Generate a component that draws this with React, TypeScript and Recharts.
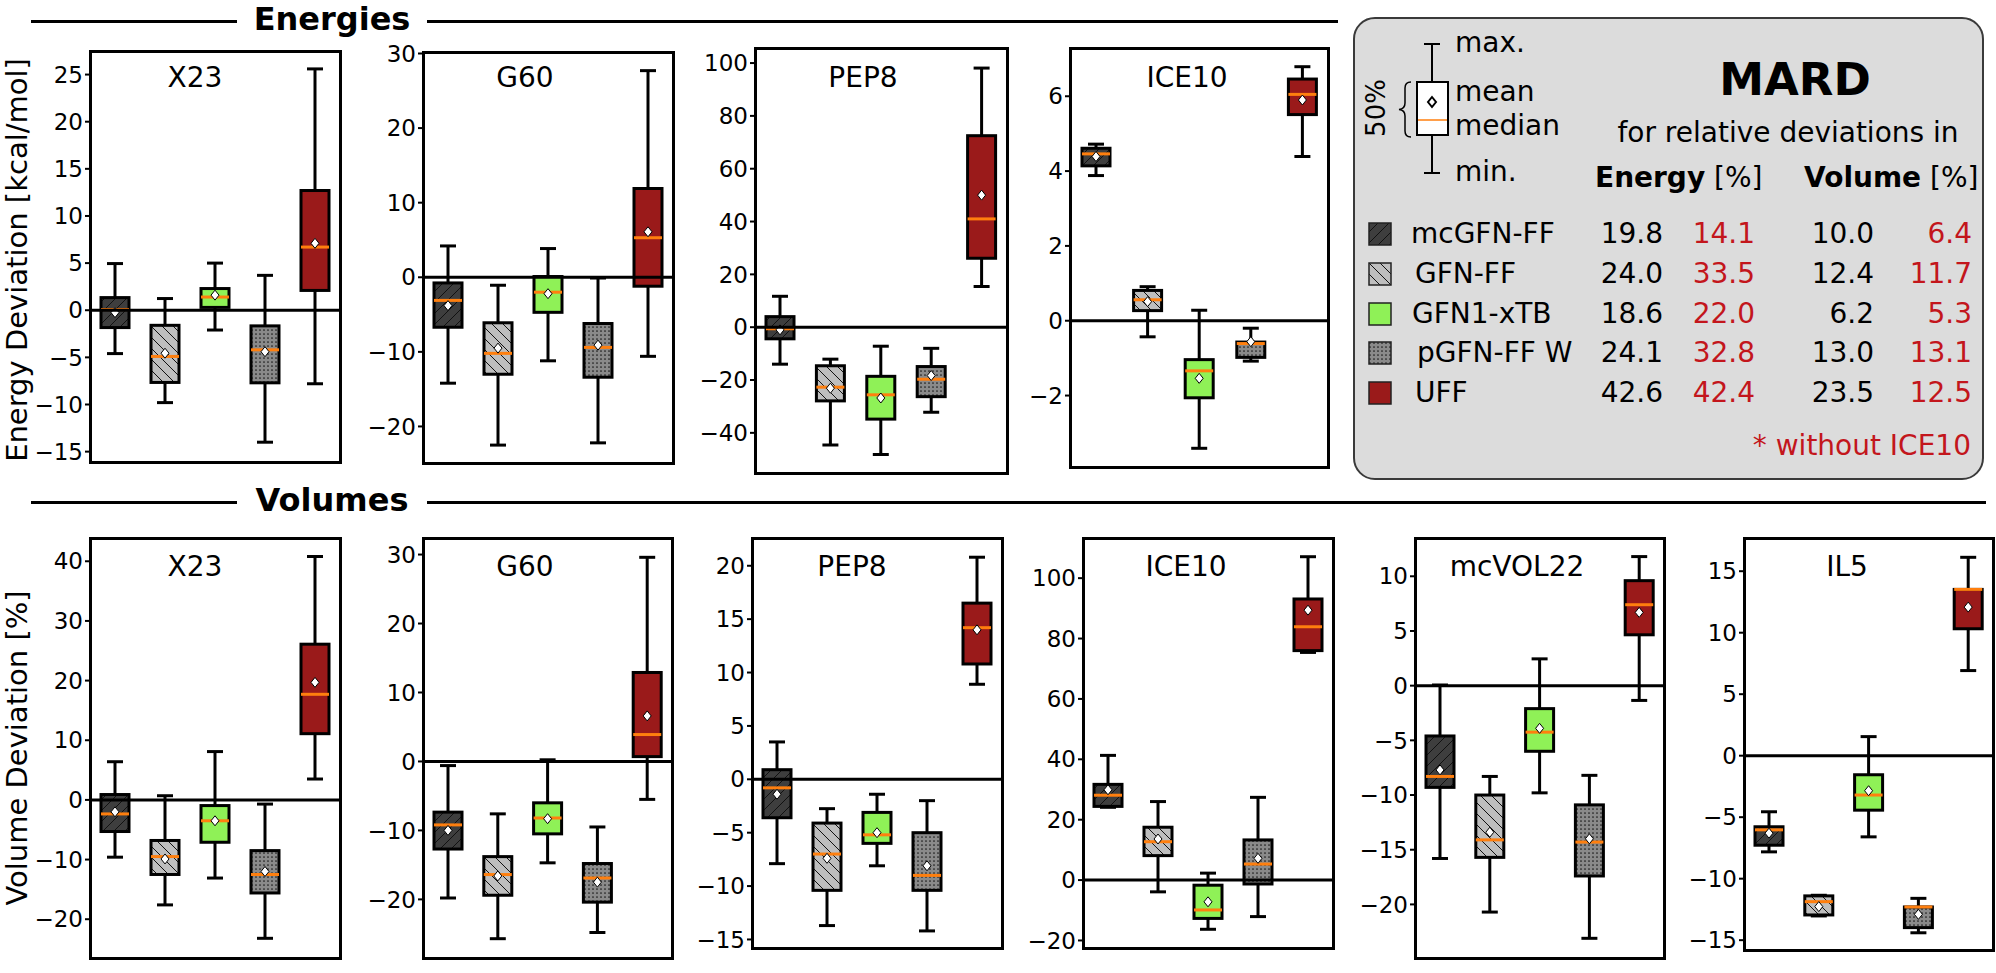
import React from "react";
import { ComposedChart, Bar, XAxis, YAxis, ReferenceLine } from "recharts";

const FONT = "'DejaVu Sans', sans-serif";

const METHODS = ["mcGFN-FF", "GFN-FF", "GFN1-xTB", "pGFN-FF W", "UFF"];
const FILLS = ["#3e3e3e", "#bebebe", "#8ff157", "#8a8a8a", "#9a1a1a"];
const PATTERNS = ["hatchFwd", "hatchBack", "", "dots", ""];

// one row per method: [min, q1, median, mean, q3, max]
const E_X23 = [
  [-4.6, -1.84, 0.07, -0.25, 1.34, 4.95],
  [-9.8, -7.66, -4.9, -4.56, -1.6, 1.24],
  [-2.1, 0.3, 1.4, 1.6, 2.3, 5.0],
  [-14.0, -7.7, -4.2, -4.4, -1.66, 3.7],
  [-7.8, 2.1, 6.7, 7.1, 12.7, 25.6],
];
const E_G60 = [
  [-14.2, -6.7, -3.1, -3.8, -0.76, 4.2],
  [-22.5, -13.0, -10.2, -9.5, -6.1, -1.07],
  [-11.2, -4.7, -2.0, -2.2, 0.1, 3.85],
  [-22.2, -13.4, -9.4, -9.1, -6.2, -0.1],
  [-10.6, -1.2, 5.3, 6.1, 11.9, 27.7],
];
const E_PEP8 = [
  [-14.0, -4.4, -0.6, -1.0, 4.0, 11.7],
  [-44.6, -27.9, -22.7, -23.1, -14.6, -12.1],
  [-48.2, -34.8, -25.6, -26.8, -18.6, -7.2],
  [-32.2, -26.3, -19.7, -18.3, -14.9, -8.0],
  [15.4, 26.1, 41.0, 50.0, 72.5, 98.1],
];
const E_ICE10 = [
  [3.88, 4.14, 4.46, 4.39, 4.61, 4.72],
  [-0.43, 0.27, 0.56, 0.51, 0.81, 0.91],
  [-3.41, -2.06, -1.34, -1.54, -1.04, 0.28],
  [-1.08, -0.98, -0.61, -0.56, -0.57, -0.2],
  [4.39, 5.51, 6.05, 5.9, 6.46, 6.79],
];
const V_X23 = [
  [-9.6, -5.3, -2.35, -2.0, 0.9, 6.4],
  [-17.6, -12.5, -9.5, -9.9, -6.8, 0.7],
  [-13.1, -7.1, -3.5, -3.5, -0.95, 8.1],
  [-23.2, -15.6, -12.5, -12.0, -8.5, -0.7],
  [3.5, 11.1, 17.7, 19.7, 26.1, 40.8],
];
const V_G60 = [
  [-19.8, -12.7, -9.2, -10.0, -7.35, -0.6],
  [-25.7, -19.4, -16.4, -16.6, -13.8, -7.6],
  [-14.7, -10.5, -8.2, -8.3, -6.0, 0.24],
  [-24.8, -20.4, -16.9, -17.5, -14.8, -9.5],
  [-5.5, 0.7, 3.9, 6.6, 12.9, 29.6],
];
const V_PEP8 = [
  [-7.9, -3.6, -0.8, -1.4, 0.9, 3.5],
  [-13.7, -10.4, -7.0, -7.4, -4.1, -2.75],
  [-8.1, -6.0, -5.2, -5.0, -3.1, -1.4],
  [-14.2, -10.4, -9.0, -8.1, -5.0, -2.0],
  [8.9, 10.8, 14.2, 14.0, 16.5, 20.8],
];
const V_ICE10 = [
  [24.1, 24.4, 28.1, 29.9, 31.7, 41.3],
  [-3.9, 8.1, 12.7, 13.6, 17.5, 26.0],
  [-16.3, -12.7, -9.9, -7.2, -1.7, 2.3],
  [-12.1, -1.3, 5.3, 7.2, 13.3, 27.4],
  [75.4, 76.0, 83.9, 89.4, 93.1, 107.1],
];
const V_MCVOL22 = [
  [-15.8, -9.3, -8.3, -7.7, -4.6, 0.06],
  [-20.7, -15.7, -14.1, -13.4, -10.0, -8.3],
  [-9.8, -6.0, -4.25, -3.9, -2.1, 2.45],
  [-23.1, -17.4, -14.3, -14.0, -10.9, -8.2],
  [-1.35, 4.65, 7.4, 6.7, 9.6, 11.8],
];
const V_IL5 = [
  [-7.82, -7.28, -6.03, -6.3, -5.78, -4.56],
  [-13.03, -12.95, -11.87, -12.27, -11.4, -11.35],
  [-6.6, -4.43, -3.2, -2.85, -1.55, 1.55],
  [-14.4, -13.98, -12.3, -12.9, -12.3, -11.6],
  [6.92, 10.32, 13.52, 12.08, 13.52, 16.13],
];

const T_E_X23 = [-15, -10, -5, 0, 5, 10, 15, 20, 25];
const T_E_G60 = [-20, -10, 0, 10, 20, 30];
const T_E_PEP8 = [-40, -20, 0, 20, 40, 60, 80, 100];
const T_E_ICE10 = [-2, 0, 2, 4, 6];
const T_V_X23 = [-20, -10, 0, 10, 20, 30, 40];
const T_V_G60 = [-20, -10, 0, 10, 20, 30];
const T_V_PEP8 = [-15, -10, -5, 0, 5, 10, 15, 20];
const T_V_ICE10 = [-20, 0, 20, 40, 60, 80, 100];
const T_V_MCVOL22 = [-20, -15, -10, -5, 0, 5, 10];
const T_V_IL5 = [-15, -10, -5, 0, 5, 10, 15];

// MARD table: energy, energy w/o ICE10, volume, volume w/o ICE10
const MARD_E = ["19.8", "24.0", "18.6", "24.1", "42.6"];
const MARD_E_RED = ["14.1", "33.5", "22.0", "32.8", "42.4"];
const MARD_V = ["10.0", "12.4", "6.2", "13.0", "23.5"];
const MARD_V_RED = ["6.4", "11.7", "5.3", "13.1", "12.5"];

const RED = "#c3161c";
const AXIS_W = 64;
const PAD = 15;

const fmt = (v: number) => (v < 0 ? "\u2212" + Math.abs(v) : String(v));

const PatternDefs = () => (
  <svg width={0} height={0} style={{ position: "absolute" }}>
    <defs>
      <pattern id="hatchFwd" patternUnits="userSpaceOnUse" width={11} height={11}>
        <path d="M-1,1 l2,-2 M0,11 l11,-11 M10,12 l2,-2" stroke="#111" strokeWidth={1} />
      </pattern>
      <pattern id="hatchBack" patternUnits="userSpaceOnUse" width={11} height={11}>
        <path d="M-1,10 l2,2 M0,0 l11,11 M10,-1 l2,2" stroke="#111" strokeWidth={1} />
      </pattern>
      <pattern id="dots" patternUnits="userSpaceOnUse" width={4} height={4}>
        <circle cx={2} cy={2} r={0.85} fill="#1a1a1a" />
      </pattern>
    </defs>
  </svg>
);

const BoxShape = (props: any) => {
  const { x, y, width, height, payload } = props;
  const [mn, q1, med, mean, q3, mx] = payload.stats;
  const k = payload.idx;
  const top = Math.min(y, y + height);
  const bot = Math.max(y, y + height);
  // pixels per unit, taken from the bar the library placed
  const ppu = (bot - top) / (q3 - q1);
  const toY = (v: number) => bot - (v - q1) * ppu;
  const cx = x + width / 2;
  const yMax = toY(mx);
  const yMin = toY(mn);
  const yMed = toY(med);
  const yMean = toY(mean);
  return (
    <g>
      <line x1={cx} x2={cx} y1={yMax} y2={top} stroke="#000" strokeWidth={3} />
      <line x1={cx} x2={cx} y1={bot} y2={yMin} stroke="#000" strokeWidth={3} />
      <line x1={cx - 8} x2={cx + 8} y1={yMax} y2={yMax} stroke="#000" strokeWidth={3} />
      <line x1={cx - 8} x2={cx + 8} y1={yMin} y2={yMin} stroke="#000" strokeWidth={3} />
      <rect x={x} y={top} width={width} height={bot - top} fill={FILLS[k]} />
      {PATTERNS[k] ? (
        <rect x={x} y={top} width={width} height={bot - top} fill={`url(#${PATTERNS[k]})`} />
      ) : null}
      <rect x={x} y={top} width={width} height={bot - top} fill="none" stroke="#000" strokeWidth={3} />
      <line x1={x} x2={x + width} y1={yMed} y2={yMed} stroke="#ff7f0e" strokeWidth={3} />
      <path
        d={`M${cx},${yMean - 5} L${cx + 4},${yMean} L${cx},${yMean + 5} L${cx - 4},${yMean} Z`}
        fill="#fff"
        stroke="#000"
        strokeWidth={1}
      />
    </g>
  );
};

interface PanelProps {
  title: string;
  titleX: number;
  titleTop: number;
  left: number;
  top: number;
  width: number;
  height: number;
  stats: number[][];
  domain: [number, number];
  ticks: number[];
}

const Panel: React.FC<PanelProps> = ({ title, titleX, titleTop, left, top, width, height, stats, domain, ticks }) => {
  const rows = stats.map((s, i) => ({ name: METHODS[i], box: [s[1], s[4]], stats: s, idx: i }));
  return (
    <>
      <div style={{ position: "absolute", left: left - AXIS_W, top: top - PAD }}>
        <ComposedChart
          width={width + AXIS_W}
          height={height + 2 * PAD}
          data={rows}
          margin={{ top: PAD, right: 0, bottom: PAD, left: 0 }}
        >
          <XAxis dataKey="name" hide />
          <YAxis
            type="number"
            width={AXIS_W}
            domain={domain}
            ticks={ticks}
            interval={0}
            axisLine={false}
            tickLine={{ stroke: "#000", strokeWidth: 2 }}
            tickSize={5}
            tickMargin={2}
            tick={{ fontSize: 23, fill: "#000", fontFamily: FONT }}
            tickFormatter={fmt}
          />
          <ReferenceLine y={0} stroke="#000" strokeWidth={3} />
          <Bar dataKey="box" barSize={28} shape={BoxShape} isAnimationActive={false} />
        </ComposedChart>
      </div>
      <div
        style={{
          position: "absolute",
          left: left - 1.5,
          top: top - 1.5,
          width: width + 3,
          height: height + 3,
          border: "3px solid #000",
          boxSizing: "border-box",
          pointerEvents: "none",
        }}
      />
      <div
        style={{
          position: "absolute",
          left: titleX,
          top: titleTop,
          transform: "translateX(-50%)",
          fontSize: 28,
          lineHeight: 1,
          whiteSpace: "nowrap",
        }}
      >
        {title}
      </div>
    </>
  );
};

const Txt = ({ x, y, size = 28, color = "#000", align = "left", bold = false, children }: any) => (
  <div
    style={{
      position: "absolute",
      left: x,
      top: y,
      transform: align === "right" ? "translate(-100%,-50%)" : align === "center" ? "translate(-50%,-50%)" : "translateY(-50%)",
      fontSize: size,
      lineHeight: 1,
      color,
      fontWeight: bold ? "bold" : "normal",
      whiteSpace: "nowrap",
    }}
  >
    {children}
  </div>
);

const Section = ({ label, y, lineEnd }: { label: string; y: number; lineEnd: number }) => (
  <>
    <div style={{ position: "absolute", left: 31, top: y - 1.5, width: 206, height: 3, background: "#000" }} />
    <div style={{ position: "absolute", left: 427, top: y - 1.5, width: lineEnd - 427, height: 3, background: "#000" }} />
    <Txt x={332} y={y - 2} size={32} bold align="center">
      {label}
    </Txt>
  </>
);

const Swatch = ({ k, y }: { k: number; y: number }) => (
  <svg width={24} height={24} style={{ position: "absolute", left: 1368, top: y - 12 }}>
    <rect x={1} y={1} width={22} height={22} fill={FILLS[k]} />
    {PATTERNS[k] ? <rect x={1} y={1} width={22} height={22} fill={`url(#${PATTERNS[k]})`} /> : null}
    <rect x={1} y={1} width={22} height={22} fill="none" stroke="#222" strokeWidth={1.5} />
  </svg>
);

const ROW_Y = [234, 274, 314, 353, 393];
const LABEL_X = [1411, 1415, 1412, 1417, 1415];

const LegendBox = () => (
  <>
    <div
      style={{
        position: "absolute",
        left: 1353,
        top: 17,
        width: 631,
        height: 463,
        background: "#dcdcdc",
        border: "2px solid #3a3a3a",
        borderRadius: 22,
        boxSizing: "border-box",
      }}
    />
    <svg width={80} height={150} style={{ position: "absolute", left: 1390, top: 34 }}>
      <g transform="translate(-1390,-34)">
        <line x1={1432} x2={1432} y1={44} y2={82} stroke="#000" strokeWidth={2} />
        <line x1={1432} x2={1432} y1={135} y2={173} stroke="#000" strokeWidth={2} />
        <line x1={1424} x2={1440} y1={44} y2={44} stroke="#000" strokeWidth={2} />
        <line x1={1424} x2={1440} y1={173} y2={173} stroke="#000" strokeWidth={2} />
        <rect x={1417} y={82} width={31} height={53} fill="#fff" stroke="#000" strokeWidth={2} />
        <line x1={1418} x2={1447} y1={120} y2={120} stroke="#ff7f0e" strokeWidth={1.5} />
        <path d="M1432,97 L1436,102 L1432,107 L1428,102 Z" fill="#fff" stroke="#000" strokeWidth={2} />
        <path
          d="M1411,82 Q1405,82 1405,88 L1405,103 Q1405,109 1399,109.5 Q1405,110 1405,116 L1405,131 Q1405,137 1411,137"
          fill="none"
          stroke="#000"
          strokeWidth={1.5}
        />
      </g>
    </svg>
    <div
      style={{
        position: "absolute",
        left: 1376,
        top: 108,
        transform: "translate(-50%,-50%) rotate(-90deg)",
        fontSize: 26,
        lineHeight: 1,
        whiteSpace: "nowrap",
      }}
    >
      50%
    </div>
    <Txt x={1455} y={43}>max.</Txt>
    <Txt x={1455} y={92}>mean</Txt>
    <Txt x={1455} y={126}>median</Txt>
    <Txt x={1455} y={172}>min.</Txt>
    <Txt x={1795} y={79} size={45} bold align="center">
      MARD
    </Txt>
    <Txt x={1788} y={133} align="center">
      for relative deviations in
    </Txt>
    <Txt x={1595} y={178}>
      <b>Energy</b> [%]
    </Txt>
    <Txt x={1804} y={178}>
      <b>Volume</b> [%]
    </Txt>
    {METHODS.map((m, i) => (
      <React.Fragment key={m}>
        <Swatch k={i} y={ROW_Y[i]} />
        <Txt x={LABEL_X[i]} y={ROW_Y[i]}>{m}</Txt>
        <Txt x={1663} y={ROW_Y[i]} align="right">{MARD_E[i]}</Txt>
        <Txt x={1755} y={ROW_Y[i]} align="right" color={RED}>{MARD_E_RED[i]}</Txt>
        <Txt x={1874} y={ROW_Y[i]} align="right">{MARD_V[i]}</Txt>
        <Txt x={1972} y={ROW_Y[i]} align="right" color={RED}>{MARD_V_RED[i]}</Txt>
      </React.Fragment>
    ))}
    <Txt x={1971} y={446} align="right" color={RED}>
      * without ICE10
    </Txt>
  </>
);

const YLabel = ({ text, y }: { text: string; y: number }) => (
  <div
    style={{
      position: "absolute",
      left: 17,
      top: y,
      transform: "translate(-50%,-50%) rotate(-90deg)",
      fontSize: 29,
      lineHeight: 1,
      whiteSpace: "nowrap",
    }}
  >
    {text}
  </div>
);

export default function App() {
  return (
    <div
      style={{
        position: "absolute",
        left: 0,
        top: 0,
        width: 1996,
        height: 973,
        background: "#fff",
        fontFamily: FONT,
        color: "#000",
        overflow: "hidden",
      }}
    >
      <PatternDefs />
      <Section label="Energies" y={21} lineEnd={1338} />
      <Section label="Volumes" y={502} lineEnd={1986} />
      <YLabel text="Energy Deviation [kcal/mol]" y={260} />
      <YLabel text="Volume Deviation [%]" y={748} />

      <Panel title="X23" titleX={195} titleTop={64} left={90} top={51} width={250} height={411} stats={E_X23} domain={[-16.1, 27.5]} ticks={T_E_X23} />
      <Panel title="G60" titleX={525} titleTop={64} left={423} top={52} width={250} height={411} stats={E_G60} domain={[-24.9, 30.2]} ticks={T_E_G60} />
      <Panel title="PEP8" titleX={863} titleTop={64} left={755} top={48} width={252} height={425} stats={E_PEP8} domain={[-55.2, 105.7]} ticks={T_E_PEP8} />
      <Panel title="ICE10" titleX={1187} titleTop={64} left={1070} top={48} width={258} height={419} stats={E_ICE10} domain={[-3.91, 7.29]} ticks={T_E_ICE10} />

      <Panel title="X23" titleX={195} titleTop={553} left={90} top={538} width={250} height={420} stats={V_X23} domain={[-26.5, 43.9]} ticks={T_V_X23} />
      <Panel title="G60" titleX={525} titleTop={553} left={423} top={538} width={249} height={420} stats={V_G60} domain={[-28.5, 32.4]} ticks={T_V_G60} />
      <Panel title="PEP8" titleX={852} titleTop={553} left={752} top={538} width={250} height={410} stats={V_PEP8} domain={[-15.8, 22.6]} ticks={T_V_PEP8} />
      <Panel title="ICE10" titleX={1186} titleTop={553} left={1083} top={538} width={250} height={410} stats={V_ICE10} domain={[-22.5, 113.3]} ticks={T_V_ICE10} />
      <Panel title="mcVOL22" titleX={1517} titleTop={553} left={1415} top={538} width={249} height={420} stats={V_MCVOL22} domain={[-24.9, 13.5]} ticks={T_V_MCVOL22} />
      <Panel title="IL5" titleX={1847} titleTop={553} left={1744} top={538} width={249} height={412} stats={V_IL5} domain={[-15.8, 17.7]} ticks={T_V_IL5} />

      <LegendBox />
    </div>
  );
}
